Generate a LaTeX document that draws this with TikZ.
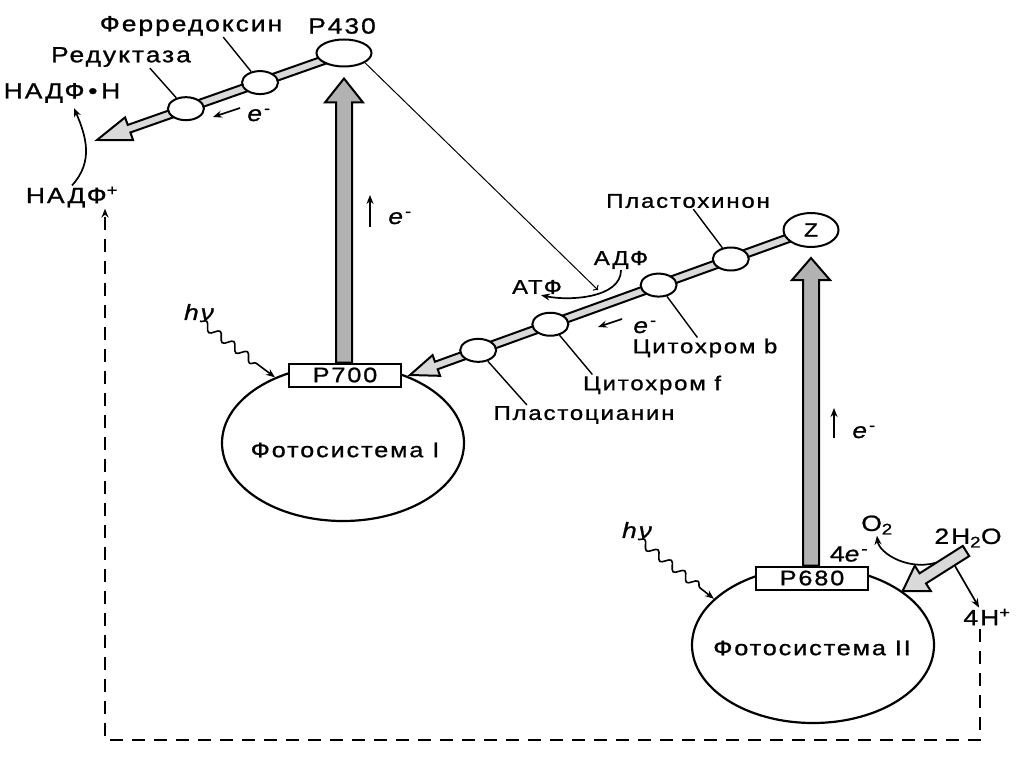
\documentclass[tikz,border=0pt]{standalone}
\usepackage{fontspec}
\setmainfont{Liberation Sans}[FakeStretch=1.2,LetterSpace=9,FakeBold=1]
\usetikzlibrary{calc,positioning,shapes.geometric,arrows.meta,decorations.pathmorphing,backgrounds}

\tikzset{
  carrier/.style={ellipse,draw,fill=white,line width=2pt,inner sep=0pt,minimum width=36pt,minimum height=23pt},
  bigcarrier/.style={carrier,minimum width=55pt,minimum height=27pt,font=\fontsize{19}{21}\selectfont},
  pbox/.style={draw,fill=white,line width=2pt,inner sep=0pt,minimum width=112pt,minimum height=23pt,font=\fontsize{21}{23}\selectfont},
  psys/.style={ellipse,draw,line width=2.2pt,inner sep=0pt,minimum width=242pt,minimum height=156pt},
  bigtxt/.style={inner sep=1pt,font=\fontsize{22}{24}\selectfont},
  txt/.style={inner sep=1pt,font=\fontsize{20}{22}\selectfont},
  leader/.style={line width=1.4pt},
  thin arrow/.style={line width=1.7pt,-{Stealth[length=9pt,width=7pt]}},
  band/.style={draw,line width=2pt,fill=gray!30},
  pump/.style={draw,line width=2pt,fill=gray!60},
  photon/.style={line width=1.6pt,decorate,decoration={snake,amplitude=4pt,segment length=17pt,post length=16pt},-{Stealth[length=9pt,width=7pt]}},
  backline/.style={line width=2.2pt,dash pattern=on 13pt off 9pt,-{Stealth[length=9pt,width=7pt]}}
}

% #1 style, #2 tail, #3 tip, #4 half shaft, #5 half head, #6 head length
\newcommand{\fatarrow}[6][band]{%
  \coordinate (fa-base) at ($(#3)!#6!(#2)$);
  \path[#1] ($(#2)!#4!90:(#3)$) -- ($(fa-base)!#4!90:(#3)$) -- ($(fa-base)!#5!90:(#3)$) -- (#3)
    -- ($(fa-base)!#5!-90:(#3)$) -- ($(fa-base)!#4!-90:(#3)$) -- ($(#2)!#4!-90:(#3)$) -- cycle;}

\begin{document}
\begin{tikzpicture}[x=1pt,y=-1pt]
\useasboundingbox (0,0) rectangle (1024,767);

% photosystem I
\node[psys] (ps1) at (343,443) {};
\node[txt,font=\fontsize{21}{23}\selectfont] (ps1txt) at (345,450) {Фотосистема I};
\node[pbox] (p700box) at (345,375) {P700};
\node[bigtxt] (hv1) at (200,312) {\textit{hν}};
\draw[photon] (hv1.south) -- (ps1.136);

% photosystem II
\node[psys] (ps2) at (813,645) {};
\node[txt,font=\fontsize{21}{23}\selectfont] (ps2txt) at (812,648) {Фотосистема II};
\node[pbox] (p680box) at (812,578) {P680};
\node[bigtxt] (hv2) at (638,530) {\textit{hν}};
\draw[photon] (hv2.south) -- (ps2.155);

% acceptor chain
\node[bigcarrier] (p430) at (344,53) {};
\node[bigtxt] (p430lbl) at (342,26) {P430};
\coordinate (ntip) at (97,140);
\node[carrier] (fd) at ($(p430)!0.34!(ntip)$) {};
\node[carrier] (red) at ($(p430)!0.64!(ntip)$) {};
\node[bigtxt] (fdlbl) at (191,26) {Ферредоксин};
\node[bigtxt] (redlbl) at (121,57) {Редуктаза};
\draw[leader] (fdlbl.-19) -- (fd);
\draw[leader] (redlbl.-21) -- (red);
\draw[thin arrow] (240,108) -- (213,117);
\node[bigtxt] (e1) at (259,115) {\textit{e}\textsuperscript{-}};
\node[bigtxt] (nadph) at (62,93) {НАДФ\,•\,Н};
\node[bigtxt] (nadp) at (72,197) {НАДФ\textsuperscript{+}};
\draw[thin arrow] (nadp.north) .. controls +(22,-24) and +(12,28) .. ($(nadph.south)+(12,4)$);

% donor chain
\node[bigcarrier,minimum height=34pt] (z) at (811,230) {Z};
\coordinate (ptip) at (410,375);
\node[carrier] (pq) at ($(z)!0.2!(ptip)$) {};
\node[carrier] (cytb) at ($(z)!0.38!(ptip)$) {};
\node[carrier] (cytf) at ($(z)!0.65!(ptip)$) {};
\node[carrier] (pc) at ($(z)!0.83!(ptip)$) {};
\node[txt] (pqlbl) at (688,201) {Пластохинон};
\node[txt] (cytblbl) at (705,348) {Цитохром b};
\node[txt] (cytflbl) at (652,385) {Цитохром f};
\node[txt] (pclbl) at (584,415) {Пластоцианин};
\draw[leader] (pqlbl.-57) -- (pq);
\draw[leader] (cytblbl.126) -- (cytb);
\draw[leader] (cytflbl.170) -- (cytf);
\draw[leader] (pclbl.170) -- (pc);
\draw[thin arrow] (622,319) -- (598,327);
\node[bigtxt] (e2) at (645,327) {\textit{e}\textsuperscript{-}};

% phosphorylation
\node[txt] (adp) at (621,260) {АДФ};
\node[txt] (atp) at (537,287) {АТФ};
\draw[thin arrow] (adp.south) .. controls +(0,28) and +(28,6) .. ($(atp.south)+(4,0)$);
\coordinate (atpmark) at (598,290);
\draw[line width=1pt,->] (p430.-25) -- (atpmark);

% electrons up
\draw[thin arrow] (370,227) -- (370,195);
\node[bigtxt] (e3) at (400,218) {\textit{e}\textsuperscript{-}};
\draw[thin arrow] (834,438) -- (834,408);
\node[bigtxt] (e4) at (864,432) {\textit{e}\textsuperscript{-}};

% water splitting
\node[bigtxt] (e5) at (849,554) {4\textit{e}\textsuperscript{-}};
\node[bigtxt] (o2) at (877,525) {O\textsubscript{2}};
\node[bigtxt] (h2o) at (968,538) {2H\textsubscript{2}O};
\node[bigtxt] (h4) at (987,617) {4H\textsuperscript{+}};
\coordinate (h2otail) at (966,551);
\coordinate (o2start) at (941,561);
\coordinate (hplus) at (955,566);
\draw[thin arrow] (hplus) -- (h4.130);

% return of protons
\coordinate (retcorner) at (105,740);
\draw[backline] (h4.south) ++(-7,3) |- (retcorner) -- (retcorner |- nadp.south);

\begin{pgfonlayer}{background}
\draw[thin arrow] (o2start) .. controls +(-30,12) and +(2,18) .. (o2.south);
\fatarrow{p430.center}{ntip}{4pt}{12pt}{34pt}
\fatarrow{z.center}{ptip}{4pt}{11pt}{28pt}
\coordinate (ps1foot) at (p700box.north -| p430.south);
\coordinate (ps1tip) at ($(p430.south)+(0,11)$);
\fatarrow[pump]{ps1foot}{ps1tip}{8pt}{19pt}{24pt}
\coordinate (ps2foot) at (p680box.north -| z.south);
\coordinate (ps2tip) at ($(z.south)+(0,10)$);
\fatarrow[pump]{ps2foot}{ps2tip}{8pt}{19pt}{22pt}
\fatarrow{h2otail}{ps2.31}{6pt}{15pt}{24pt}
\end{pgfonlayer}
\end{tikzpicture}
\end{document}
